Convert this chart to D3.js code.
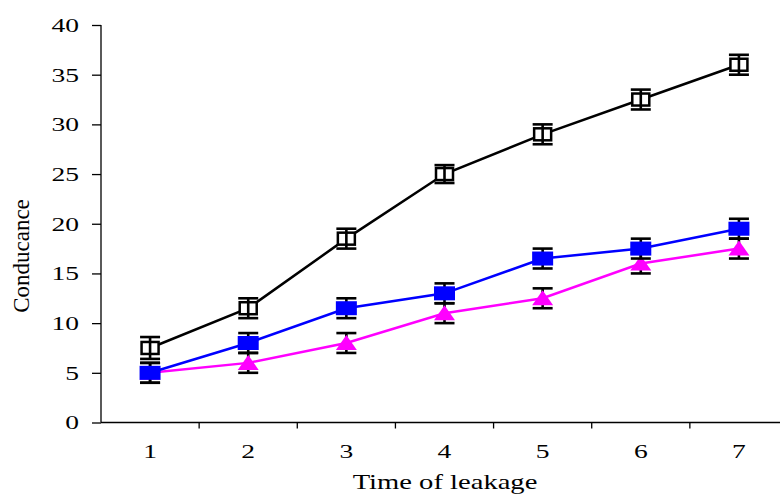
<!DOCTYPE html>
<html>
<head>
<meta charset="utf-8">
<script src="https://cdn.jsdelivr.net/npm/d3@7"></script>
<style>
  body { margin: 0; background: #fff; }
  svg text { font-family: "Liberation Serif", "Times New Roman", serif; fill: #000; }
</style>
</head>
<body>
<div id="chart"></div>
<script>
"use strict";

/* chart values */
const times = [1, 2, 3, 4, 5, 6, 7];
const yTicks = [0, 5, 10, 15, 20, 25, 30, 35, 40];

const blackVals = [7.5, 11.5, 18.5, 25, 29, 32.5, 36];
const blackErr = [1.1, 1, 1, 0.9, 1, 1, 1];
const blueVals = [5, 8, 11.5, 13, 16.5, 17.5, 19.5];
const blueErr = [1, 1, 1, 1, 1, 1, 1];
const pinkVals = [5, 6, 8, 11, 12.5, 16, 17.5];
const pinkErr = [1, 1, 1, 1, 1, 1, 1];

const W = 780, H = 494;
const plotLeft = 101, plotRight = 788, plotTop = 25, plotBottom = 422.5;
// the original's lettering is drawn wide, so stretch the text sideways
const stretch = 1.45;

const svg = d3.select("#chart")
  .append("svg")
  .attr("width", W)
  .attr("height", H);

const x = d3.scaleBand()
  .domain(times)
  .range([plotLeft, plotRight]);

const y = d3.scaleLinear()
  .domain([0, 40])
  .range([plotBottom, plotTop]);

/* y axis */
const yAxis = svg.append("g")
  .attr("transform", `translate(${plotLeft},0)`)
  .call(d3.axisLeft(y).tickValues(yTicks).tickSize(9).tickPadding(13));
yAxis.selectAll("text")
  .style("font-size", "19px")
  .attr("dy", "0.34em")
  .attr("x", 0)
  .attr("transform", `translate(-22,0) scale(${stretch},1)`);
yAxis.selectAll("path, line").attr("stroke", "#000").attr("stroke-width", 1.3);
yAxis.select(".domain").attr("d", `M0,${plotTop}V${plotBottom}`);

/* x axis: labels at centres, tick marks between categories (Excel style) */
const xAxis = svg.append("g")
  .attr("transform", `translate(0,${plotBottom})`)
  .call(d3.axisBottom(x).tickSize(0).tickPadding(22));
xAxis.selectAll("text")
  .style("font-size", "19px")
  .attr("transform", `scale(${stretch},1)`);
xAxis.select(".domain").attr("stroke", "#000").attr("stroke-width", 1.3)
  .attr("d", `M${plotLeft},0H${plotRight}`);
xAxis.selectAll(".between")
  .data(times.slice(1).concat(["end"]))
  .enter()
  .append("line")
  .attr("class", "between")
  .attr("x1", d => d === "end" ? plotRight : x(d))
  .attr("x2", d => d === "end" ? plotRight : x(d))
  .attr("y1", 0)
  .attr("y2", 6)
  .attr("stroke", "#000")
  .attr("stroke-width", 1.3);

/* axis titles */
svg.append("text")
  .attr("transform", `translate(29,256) rotate(-90)`)
  .attr("text-anchor", "middle")
  .style("font-size", "23px")
  .text("Conducance");

svg.append("text")
  .attr("transform", `translate(445,489) scale(1.3,1)`)
  .attr("text-anchor", "middle")
  .style("font-size", "22px")
  .text("Time of leakage");

const cx = d => x(d) + x.bandwidth() / 2;

function makeRows(vals, errs) {
  return times.map((t, i) => ({ t: t, v: vals[i], e: errs[i] }));
}

const line = d3.line()
  .x(d => cx(d.t))
  .y(d => y(d.v));

function drawErrors(g, rows) {
  const eb = g.selectAll(".err")
    .data(rows)
    .enter()
    .append("g")
    .attr("class", "err")
    .attr("stroke", "#000")
    .attr("stroke-width", 2.6);
  eb.append("line")
    .attr("x1", d => cx(d.t)).attr("x2", d => cx(d.t))
    .attr("y1", d => y(d.v + d.e)).attr("y2", d => y(d.v - d.e));
  eb.append("line")
    .attr("x1", d => cx(d.t) - 10).attr("x2", d => cx(d.t) + 10)
    .attr("y1", d => y(d.v + d.e)).attr("y2", d => y(d.v + d.e));
  eb.append("line")
    .attr("x1", d => cx(d.t) - 10).attr("x2", d => cx(d.t) + 10)
    .attr("y1", d => y(d.v - d.e)).attr("y2", d => y(d.v - d.e));
}

/* magenta series (triangles) */
const pinkRows = makeRows(pinkVals, pinkErr);
const gPink = svg.append("g");
gPink.append("path")
  .datum(pinkRows)
  .attr("d", line)
  .attr("fill", "none")
  .attr("stroke", "#ff00ff")
  .attr("stroke-width", 2.5);
drawErrors(gPink, pinkRows);
gPink.selectAll(".tri")
  .data(pinkRows)
  .enter()
  .append("path")
  .attr("class", "tri")
  .attr("d", d => {
    const px = cx(d.t), py = y(d.v);
    return `M${px},${py - 8}L${px + 10.5},${py + 7}L${px - 10.5},${py + 7}Z`;
  })
  .attr("fill", "#ff00ff");

/* blue series (filled squares) */
const blueRows = makeRows(blueVals, blueErr);
const gBlue = svg.append("g");
gBlue.append("path")
  .datum(blueRows)
  .attr("d", line)
  .attr("fill", "none")
  .attr("stroke", "#0000ff")
  .attr("stroke-width", 2.5);
drawErrors(gBlue, blueRows);
gBlue.selectAll(".sq")
  .data(blueRows)
  .enter()
  .append("rect")
  .attr("class", "sq")
  .attr("x", d => cx(d.t) - 10.5)
  .attr("y", d => y(d.v) - 7)
  .attr("width", 21)
  .attr("height", 14)
  .attr("fill", "#0000ff");

/* black series (open squares) */
const blackRows = makeRows(blackVals, blackErr);
const gBlack = svg.append("g");
gBlack.append("path")
  .datum(blackRows)
  .attr("d", line)
  .attr("fill", "none")
  .attr("stroke", "#000")
  .attr("stroke-width", 2.5);
gBlack.selectAll(".osq")
  .data(blackRows)
  .enter()
  .append("rect")
  .attr("class", "osq")
  .attr("x", d => cx(d.t) - 8.5)
  .attr("y", d => y(d.v) - 6)
  .attr("width", 17)
  .attr("height", 12)
  .attr("fill", "#fff")
  .attr("stroke", "#000")
  .attr("stroke-width", 2.5);
drawErrors(gBlack, blackRows);
</script>
</body>
</html>
